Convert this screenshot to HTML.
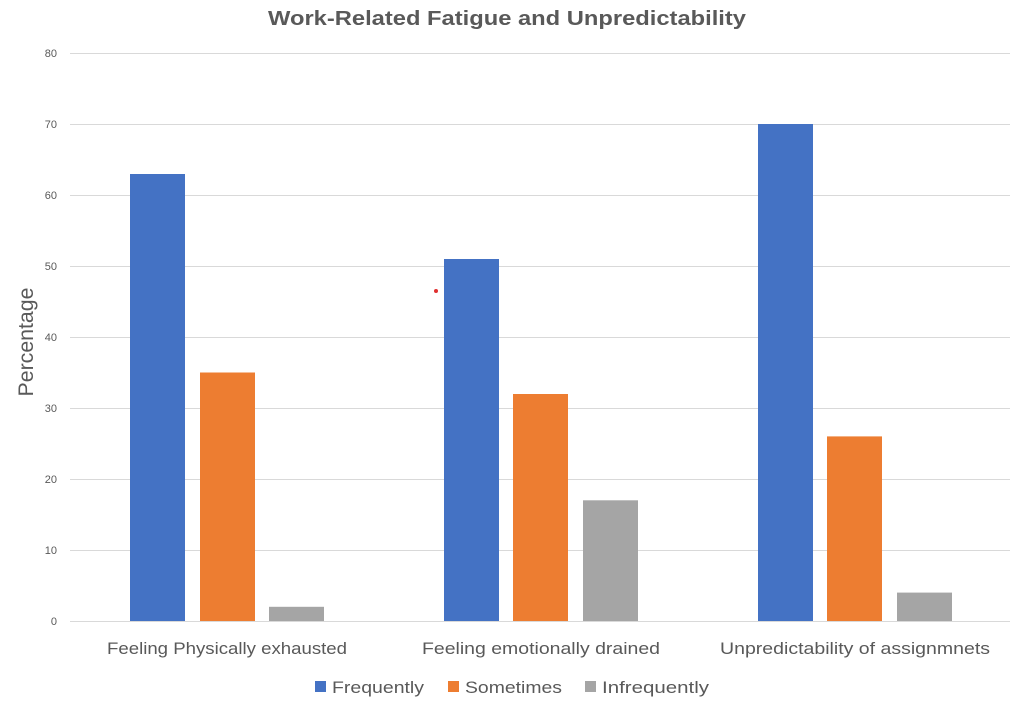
<!DOCTYPE html>
<html><head><style>body{margin:0;background:#fff}</style></head><body>
<svg width="1024" height="709" xmlns="http://www.w3.org/2000/svg" font-family="Liberation Sans, sans-serif">
<rect width="1024" height="709" fill="#fff"/>
<text x="507" y="25" text-anchor="middle" font-size="20" font-weight="bold" fill="#595959" textLength="478" lengthAdjust="spacingAndGlyphs">Work-Related Fatigue and Unpredictability</text>
<g stroke="#d9d9d9" stroke-width="1">
<line x1="70" x2="1010" y1="53.5" y2="53.5"/><line x1="70" x2="1010" y1="124.5" y2="124.5"/>
<line x1="70" x2="1010" y1="195.5" y2="195.5"/><line x1="70" x2="1010" y1="266.5" y2="266.5"/>
<line x1="70" x2="1010" y1="337.5" y2="337.5"/><line x1="70" x2="1010" y1="408.5" y2="408.5"/>
<line x1="70" x2="1010" y1="479.5" y2="479.5"/><line x1="70" x2="1010" y1="550.5" y2="550.5"/>
<line x1="70" x2="1010" y1="621.5" y2="621.5"/>
</g>
<g font-size="11" fill="#595959" text-anchor="end">
<text x="57" y="57">80</text><text x="57" y="128">70</text><text x="57" y="199">60</text>
<text x="57" y="270">50</text><text x="57" y="341">40</text><text x="57" y="412">30</text>
<text x="57" y="483">20</text><text x="57" y="554">10</text><text x="57" y="625">0</text>
</g>
<text transform="translate(33,342) rotate(-90)" text-anchor="middle" font-size="21" fill="#595959" textLength="109" lengthAdjust="spacingAndGlyphs">Percentage</text>
<g fill="#4472C4">
<rect x="130" y="174" width="55" height="447"/><rect x="444" y="259" width="55" height="362"/><rect x="758" y="124" width="55" height="497"/>
</g>
<g fill="#ED7D31">
<rect x="200" y="372.5" width="55" height="248.5"/><rect x="513" y="394" width="55" height="227"/><rect x="827" y="436.4" width="55" height="184.6"/>
</g>
<g fill="#A5A5A5">
<rect x="269" y="606.8" width="55" height="14.2"/><rect x="583" y="500.3" width="55" height="120.7"/><rect x="897" y="592.6" width="55" height="28.4"/>
</g>
<circle cx="436" cy="291" r="2" fill="#e03030"/>
<g font-size="17" fill="#595959" text-anchor="middle" lengthAdjust="spacingAndGlyphs">
<text x="227" y="654" textLength="240" lengthAdjust="spacingAndGlyphs">Feeling Physically exhausted</text>
<text x="541" y="654" textLength="238" lengthAdjust="spacingAndGlyphs">Feeling emotionally drained</text>
<text x="855" y="654" textLength="270" lengthAdjust="spacingAndGlyphs">Unpredictability of assignmnets</text>
</g>
<g font-size="17" fill="#595959">
<rect x="315" y="681" width="11" height="11" fill="#4472C4"/><text x="332" y="693" textLength="92" lengthAdjust="spacingAndGlyphs">Frequently</text>
<rect x="448" y="681" width="11" height="11" fill="#ED7D31"/><text x="465" y="693" textLength="97" lengthAdjust="spacingAndGlyphs">Sometimes</text>
<rect x="585" y="681" width="11" height="11" fill="#A5A5A5"/><text x="602" y="693" textLength="107" lengthAdjust="spacingAndGlyphs">Infrequently</text>
</g>
</svg>
</body></html>
